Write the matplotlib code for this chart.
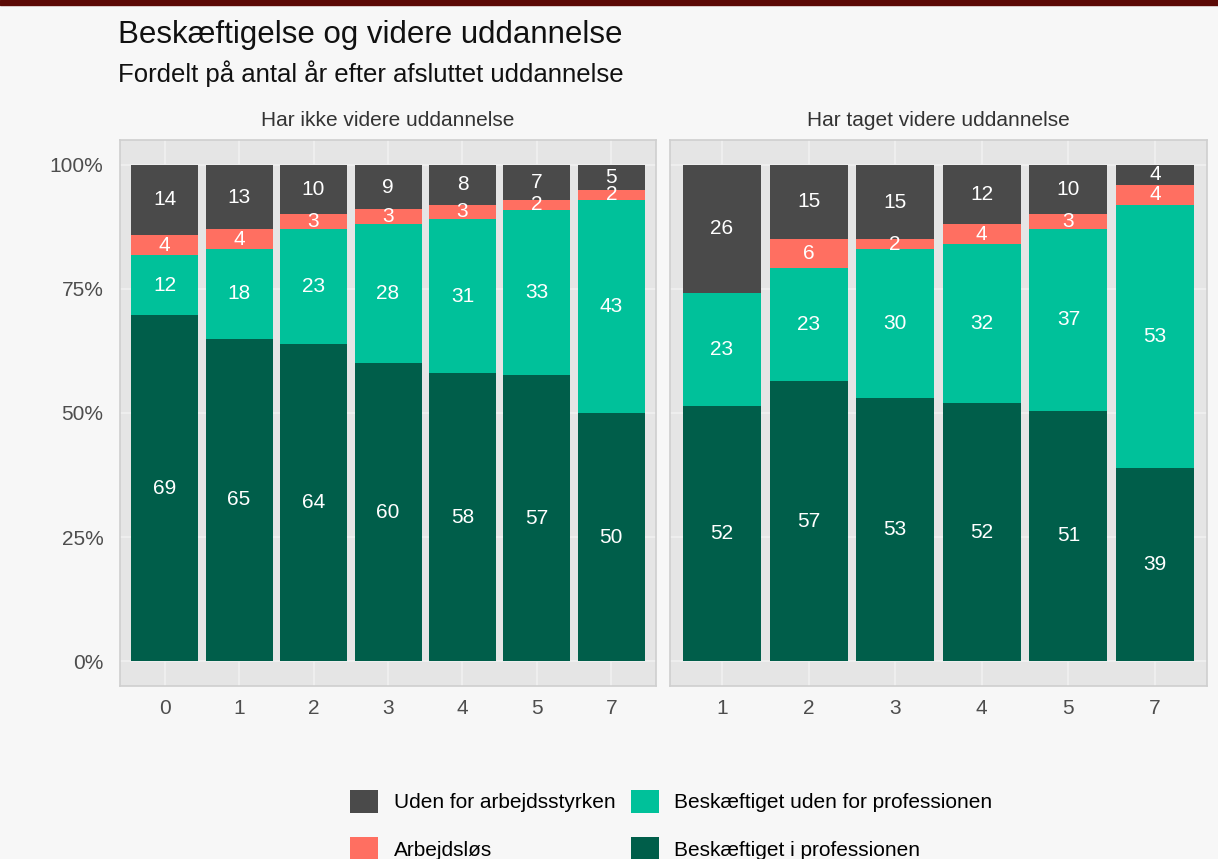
import numpy as np
import matplotlib
matplotlib.use('Agg')
import matplotlib.pyplot as plt
from matplotlib.patches import Patch

plt.rcParams['font.family'] = ['Liberation Sans', 'DejaVu Sans']

# data, bottom to top of each stack
series = ['Beskæftiget i professionen', 'Beskæftiget uden for professionen',
          'Arbejdsløs', 'Uden for arbejdsstyrken']
colors = ['#005E4A', '#00C19A', '#FF6F61', '#4A4A4A']

left_years = ['0', '1', '2', '3', '4', '5', '7']
left_vals = [
    [69, 65, 64, 60, 58, 57, 50],   # i professionen
    [12, 18, 23, 28, 31, 33, 43],   # uden for professionen
    [4, 4, 3, 3, 3, 2, 2],          # arbejdsløs
    [14, 13, 10, 9, 8, 7, 5],       # uden for arbejdsstyrken
]

right_years = ['1', '2', '3', '4', '5', '7']
right_vals = [
    [52, 57, 53, 52, 51, 39],
    [23, 23, 30, 32, 37, 53],
    [0, 6, 2, 4, 3, 4],
    [26, 15, 15, 12, 10, 4],
]

facets = ['Har ikke videre uddannelse', 'Har taget videre uddannelse']

W, H = 1218, 859
fig = plt.figure(figsize=(W / 100, H / 100), dpi=100)
fig.patch.set_facecolor('#F7F7F7')

# dark red band at the top
fig.add_artist(plt.Rectangle((0, 1 - 5 / H), 1, 5 / H, transform=fig.transFigure,
                             color='#5C0A06', zorder=0))


def draw_panel(ax, years, vals, strip):
    vals = np.array(vals, dtype=float)
    shares = vals / vals.sum(axis=0)
    x = np.arange(len(years))
    bottom = np.zeros(len(years))
    for i in range(len(series)):
        ax.bar(x, shares[i], 0.9, bottom=bottom, color=colors[i], zorder=3)
        for j in range(len(years)):
            if vals[i, j] > 0:
                ax.text(x[j], bottom[j] + shares[i, j] / 2, '%d' % vals[i, j],
                        ha='center', va='center', color='white', fontsize=15, zorder=4)
        bottom += shares[i]

    ax.set_facecolor('#E5E5E5')
    ax.set_xlim(-0.6, len(years) - 0.4)
    ax.set_ylim(-0.05, 1.05)
    ax.set_xticks(x)
    ax.set_xticklabels(years)
    ax.set_yticks([0, 0.25, 0.5, 0.75, 1])
    ax.grid(True, which='major', color='#F0F0F0', linewidth=1.2, zorder=1)
    ax.tick_params(which='both', length=0, labelsize=15, labelcolor='#4D4D4D')
    ax.tick_params(axis='x', pad=9)
    ax.tick_params(axis='y', pad=12)
    for sp in ax.spines.values():
        sp.set_color('#CFCFCF')
        sp.set_linewidth(1.2)
    ax.set_title(strip, fontsize=15, color='#333333', pad=10)


ax1 = fig.add_axes([120 / W, (H - 686) / H, 536 / W, 546 / H])
ax2 = fig.add_axes([670 / W, (H - 686) / H, 537 / W, 546 / H])

draw_panel(ax1, left_years, left_vals, facets[0])
draw_panel(ax2, right_years, right_vals, facets[1])

ax1.set_yticklabels(['0%', '25%', '50%', '75%', '100%'])
ax2.set_yticklabels([])

fig.text(118 / W, 1 - 35 / H, 'Beskæftigelse og videre uddannelse',
         fontsize=22.5, va='center', ha='left', color='#111111')
fig.text(118 / W, 1 - 74 / H, 'Fordelt på antal år efter afsluttet uddannelse',
         fontsize=18.5, va='center', ha='left', color='#111111')

order = [3, 2, 1, 0]
handles = [Patch(facecolor=colors[i], edgecolor='none') for i in order]
labels = [series[i] for i in order]
fig.legend(handles, labels, ncol=2, loc='upper left',
           bbox_to_anchor=(331 / W, 1 - 771 / H), frameon=False,
           fontsize=15, handlelength=1.35, handleheight=1.35,
           handletextpad=0.75, columnspacing=0.75, labelspacing=1.15)

fig.savefig('out.png', dpi=100, facecolor=fig.get_facecolor())
